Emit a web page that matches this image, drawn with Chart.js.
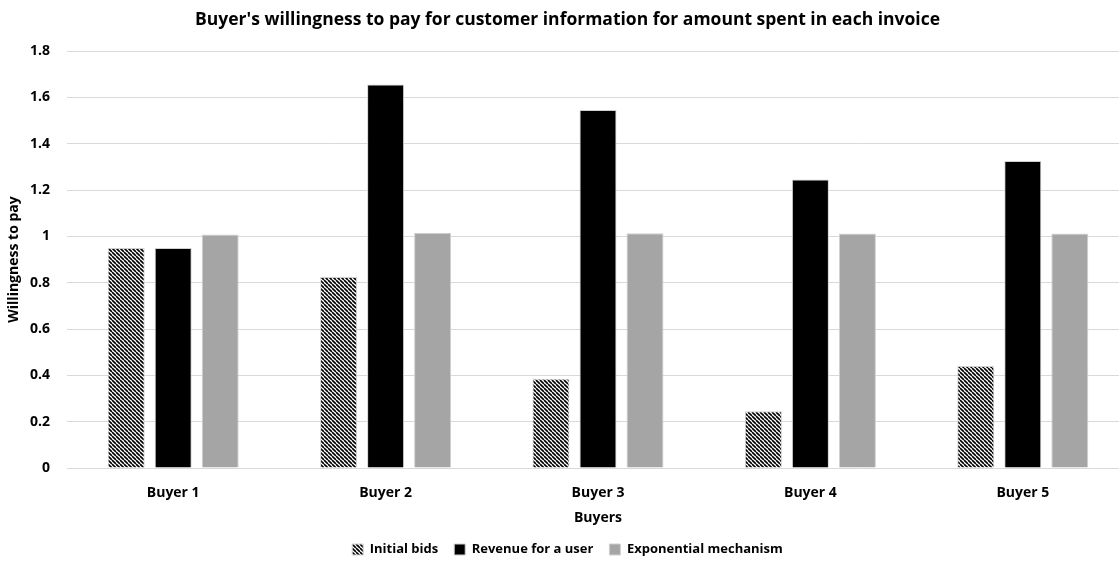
<!DOCTYPE html>
<html>
<head>
<meta charset="utf-8">
<script src="https://cdn.jsdelivr.net/npm/chart.js@4/dist/chart.umd.min.js"></script>
<style>
  html, body { margin: 0; padding: 0; background: #fff; overflow: hidden; }
  #wrap { width: 1140px; height: 563px; }
</style>
</head>
<body>
<div id="wrap"><canvas id="barChart"></canvas></div>
<script>
var buyers = ["Buyer 1", "Buyer 2", "Buyer 3", "Buyer 4", "Buyer 5"];
var initialBids = [0.95, 0.825, 0.385, 0.245, 0.44];
var revenueUser = [0.95, 1.655, 1.545, 1.245, 1.325];
var exponentialMech = [1.008, 1.015, 1.013, 1.012, 1.012];
var seriesNames = ["Initial bids", "Revenue for a user", "Exponential mechanism"];

// diagonal black/white stripes for the first series
var makeHatch = function() {
    var size = 4;
    var c = document.createElement("canvas");
    c.width = size;
    c.height = size;
    var g = c.getContext("2d");
    g.fillStyle = "#ffffff";
    g.fillRect(0, 0, size, size);
    g.strokeStyle = "#000000";
    g.lineWidth = 1.6;
    g.beginPath();
    for (var k = -1; k <= 1; k++) {
        g.moveTo(k * size, 0);
        g.lineTo(k * size + size, size);
    }
    g.stroke();
    return g.createPattern(c, "repeat");
};

Chart.defaults.font.family = "'Open Sans', Lato, sans-serif";
Chart.defaults.color = "#000";

var config = {
    type: 'bar',
    data: {
        labels: buyers,
        datasets: [{
            label: seriesNames[0],
            data: initialBids,
            backgroundColor: makeHatch(),
            borderColor: "#d0d0d0",
            borderWidth: 1
        }, {
            label: seriesNames[1],
            data: revenueUser,
            backgroundColor: "#000000",
            borderColor: "#d0d0d0",
            borderWidth: 1
        }, {
            label: seriesNames[2],
            data: exponentialMech,
            backgroundColor: "#a5a5a5",
            borderColor: "#d0d0d0",
            borderWidth: 1
        }]
    },
    options: {
        responsive: true,
        maintainAspectRatio: false,
        animation: false,
        categoryPercentage: 0.664,
        barPercentage: 0.787,
        layout: { padding: { left: 6, right: 11, top: 0, bottom: -3 } },
        plugins: {
            title: {
                display: true,
                text: "Buyer's willingness to pay for customer information for amount spent in each invoice",
                font: { size: 17.5, weight: 'bold' },
                padding: { top: 10, bottom: 20 }
            },
            legend: {
                position: 'bottom',
                labels: {
                    boxWidth: 11,
                    boxHeight: 11,
                    padding: 16,
                    font: { size: 13, weight: 'bold' }
                }
            },
            tooltip: { enabled: false }
        },
        scales: {
            x: {
                grid: { display: false, drawTicks: false },
                border: { display: false },
                ticks: { font: { size: 14, weight: 'bold' }, padding: 16.6 },
                title: {
                    display: true,
                    text: "Buyers",
                    font: { size: 14, weight: 'bold' },
                    padding: { top: 0, bottom: 0.5 }
                },
                afterFit: function(scale) { scale.height = 59; }
            },
            y: {
                min: 0,
                max: 1.8,
                ticks: {
                    stepSize: 0.2,
                    font: { size: 14, weight: 'bold' },
                    padding: 17,
                    callback: function(v) { return Math.round(v * 10) / 10; }
                },
                grid: { color: "#d9d9d9", drawTicks: false },
                border: { display: false },
                title: {
                    display: true,
                    text: "Willingness to pay",
                    font: { size: 14, weight: 'bold' },
                    padding: { top: 0, bottom: 5 }
                },
                afterFit: function(scale) { scale.width = 61; }
            }
        }
    }
};

var ctx = document.getElementById("barChart");
var myBar = new Chart(ctx, config);
</script>
</body>
</html>
